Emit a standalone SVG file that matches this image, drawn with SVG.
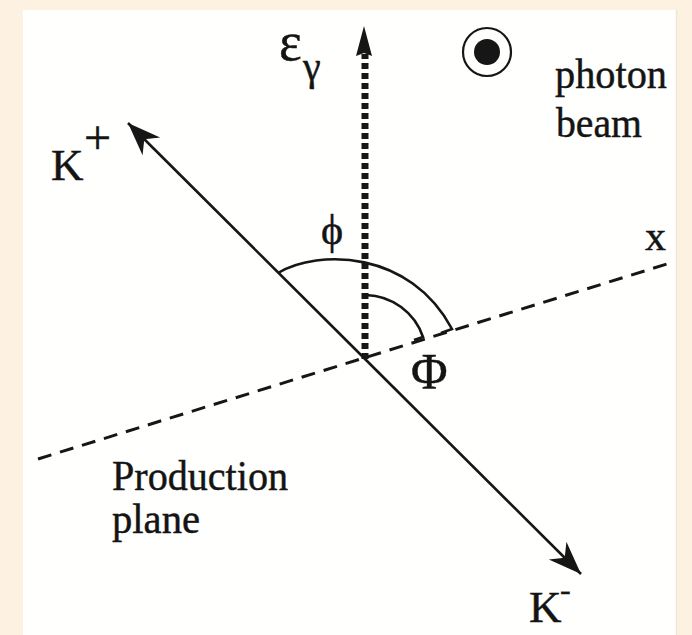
<svg xmlns="http://www.w3.org/2000/svg" width="692" height="635" viewBox="0 0 692 635">
<style>
text{font-family:"Liberation Serif","Times New Roman","DejaVu Serif",serif;fill:#141414;stroke:#141414;stroke-width:0.45;}
.ln{stroke:#161616;stroke-width:2.6;fill:none;}
</style>
<defs>
<marker id="stealth" viewBox="-34 -14 36 28" markerWidth="36" markerHeight="28" refX="0" refY="0" orient="auto" markerUnits="userSpaceOnUse">
<path d="M0,0 L-33,-12.5 L-23,0 L-33,12.5 Z" fill="#161616"/>
</marker>
</defs>
<rect width="692" height="635" fill="#fdf2e2"/>
<rect x="23" y="10" width="653" height="630" fill="#fffffd"/>
<line x1="676.5" y1="10" x2="676.5" y2="635" stroke="#f1e6d6" stroke-width="1.5"/>
<g id="connectors">
<line id="xaxis" x1="38" y1="459" x2="667" y2="264" stroke="#161616" stroke-width="3" stroke-dasharray="14,9"/>
<line id="kplus" class="ln" x1="363" y1="357" x2="128" y2="123" marker-end="url(#stealth)"/>
<line id="kminus" class="ln" x1="363" y1="357" x2="581" y2="574" marker-end="url(#stealth)"/>
<line id="epsilon" x1="365" y1="359" x2="365" y2="54" stroke="#161616" stroke-width="7" stroke-dasharray="6,4"/>
<polygon points="364,26 356,56 364,53 372,56" fill="#161616"/>
<path id="arc-phi" class="ln" d="M278,273 C318,249 410,250 452,329 L441,333"/>
<path id="arc-Phi" class="ln" d="M366,295 A62,62 0 0 1 423,337 L414,340"/>
</g>
<g id="photon-beam">
<circle cx="487" cy="52" r="24" fill="none" stroke="#161616" stroke-width="2.2"/>
<circle cx="487" cy="52" r="13" fill="#161616"/>
<text x="555" y="88" font-size="43" textLength="112" lengthAdjust="spacingAndGlyphs">photon</text>
<text x="556" y="137" font-size="43" textLength="86" lengthAdjust="spacingAndGlyphs">beam</text>
</g>
<g id="label-epsilon">
<text x="279" y="60" font-size="54">ε</text>
<text x="303" y="80" font-size="40">γ</text>
</g>
<g id="label-kplus">
<text x="51" y="180" font-size="45">K</text>
<text x="84" y="154" font-size="48">+</text>
</g>
<g id="label-kminus">
<text x="529" y="622" font-size="45">K</text>
<text x="560" y="600" font-size="32">-</text>
</g>
<g id="label-x"><text x="645" y="250" font-size="42">x</text></g>
<g id="label-phi"><text x="321" y="244" font-size="42">ϕ</text></g>
<g id="label-Phi"><text x="411" y="388" font-size="50">Φ</text></g>
<g id="label-plane">
<text x="112" y="490" font-size="42" textLength="176" lengthAdjust="spacingAndGlyphs">Production</text>
<text x="112" y="533" font-size="42" textLength="88" lengthAdjust="spacingAndGlyphs">plane</text>
</g>
</svg>
